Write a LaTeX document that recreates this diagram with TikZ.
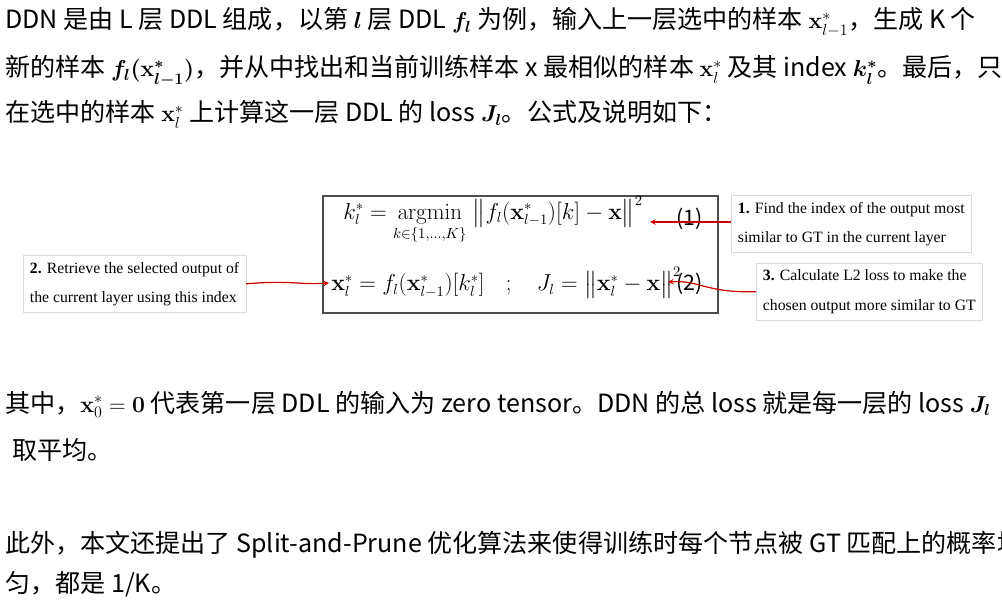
\documentclass[tikz,border=0pt]{standalone}
\usepackage{amsmath}
\usepackage[no-math]{fontspec}
\setmainfont{Noto Sans CJK SC}
\newfontfamily\serifbox{Liberation Serif}
\begin{document}
\begin{tikzpicture}[x=0.75pt,y=-0.75pt,
  txt/.style={anchor=base west,inner sep=0pt,font=\fontsize{18.8}{22}\selectfont},
  note/.style={draw=black!15,fill=white,align=left,font=\serifbox\fontsize{11.8}{22}\selectfont,anchor=north west,inner sep=5pt},
  eq/.style={anchor=west,inner sep=0pt,font=\fontsize{16}{19}\selectfont},
  redarr/.style={draw=red!80!black,line width=0.9pt,-stealth}]
\useasboundingbox[fill=white] (0,0) rectangle (1002,609);
\node[txt] (l1) at (5,29) {DDN 是由 L 层 DDL 组成，以第 $\boldsymbol{l}$ 层 DDL $\boldsymbol{f_l}$ 为例，输入上一层选中的样本 $\mathbf{x}^*_{l-1}$，生成 K 个};
\node[txt] (l2) at (5,77) {新的样本 $\boldsymbol{f_l(\mathbf{x}^*_{l-1})}$，并从中找出和当前训练样本 x 最相似的样本 $\mathbf{x}^*_l$ 及其 index $\boldsymbol{k^*_l}$。最后，只};
\node[txt] (l3) at (5,122) {在选中的样本 $\mathbf{x}^*_l$ 上计算这一层 DDL 的 loss $\boldsymbol{J_l}$。公式及说明如下：};
% main box
\draw[black!70,line width=0.8pt] (323,196) rectangle (718,313);
\node[eq] (eq1) at (343,220) {$k^*_l = \mathop{\mathrm{argmin}}\limits_{k\in\{1,\ldots,K\}}\;\bigl\|f_l(\mathbf{x}^*_{l-1})[k]-\mathbf{x}\bigr\|^2$};
\node[eq] (n1) at (676,219) {(1)};
\node[eq] (eq2) at (331,283) {$\mathbf{x}^*_l = f_l(\mathbf{x}^*_{l-1})[k^*_l] \quad;\quad J_l=\bigl\|\mathbf{x}^*_l-\mathbf{x}\bigr\|^2$};
\node[eq] (n2) at (676,284) {(2)};
\node[note] (b1) at (731,195) {\textbf{1.} Find the index of the output most\\similar to GT in the current layer};
\node[note] (b2) at (23,255) {\textbf{2.} Retrieve the selected output of\\the current layer using this index};
\node[note] (b3) at (756,263) {\textbf{3.} Calculate L2 loss to make the\\chosen output more similar to GT};
\coordinate (h1) at (650,222);
\coordinate (h2) at (329,283);
\coordinate (h3) at (668,282);
\draw[redarr] (b1.west|-h1) -- (h1);
\draw[redarr] (b2.east) .. controls (290,280) and (300,285) .. (h2);
\draw[redarr] (b3.west) .. controls (705,293) and (700,280) .. (h3);
\node[txt] (l4) at (5,412) {其中，$\mathbf{x}^*_0=\mathbf{0}$ 代表第一层 DDL 的输入为 zero tensor。DDN 的总 loss 就是每一层的 loss $\boldsymbol{J_l}$};
\node[txt] (l5) at (12,459) {取平均。};
\node[txt] (l6) at (5,552) {此外，本文还提出了 Split-and-Prune 优化算法来使得训练时每个节点被 GT 匹配上的概率均};
\node[txt] (l7) at (5,592) {匀，都是 1/K。};
\end{tikzpicture}
\end{document}
